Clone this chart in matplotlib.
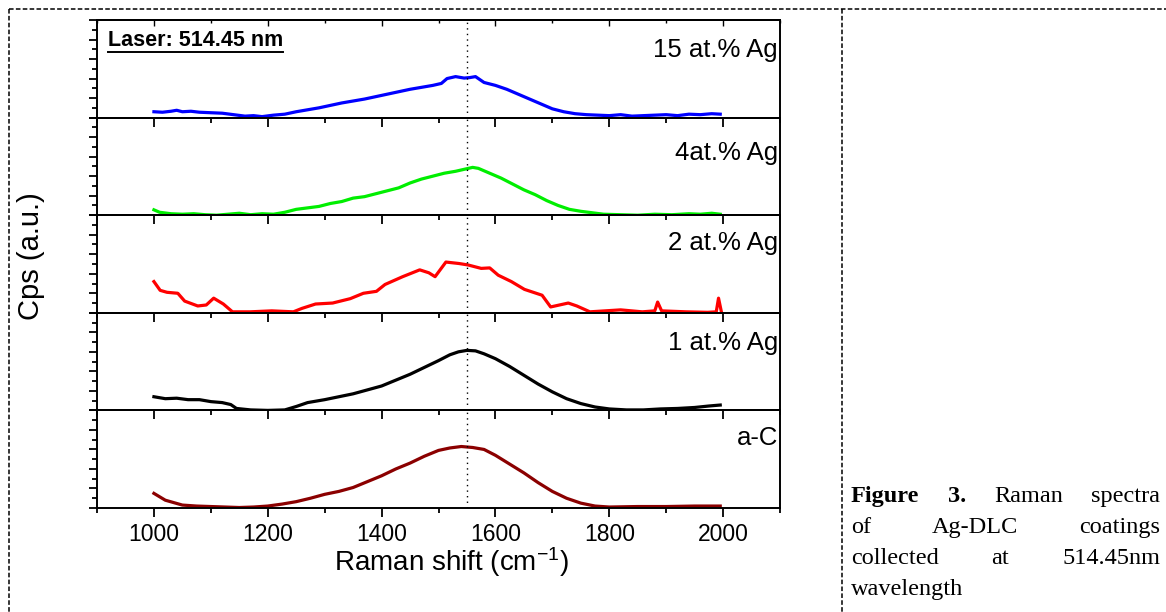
import matplotlib
matplotlib.use('Agg')
import matplotlib.pyplot as plt
from matplotlib.lines import Line2D
from matplotlib.ticker import MultipleLocator

plt.rcParams['font.family'] = ['Liberation Sans', 'DejaVu Sans']
plt.rcParams['mathtext.fontset'] = 'custom'
plt.rcParams['mathtext.rm'] = 'Liberation Sans'
plt.rcParams['mathtext.it'] = 'Liberation Sans:italic'

# ---------------- data (normalised intensity, fraction of panel height) ----------------
labels = ["15 at.% Ag", "4at.% Ag", "2 at.% Ag", "1 at.% Ag", "a-C"]
colors = ["#0000FF", "#00EE00", "#FF0000", "#000000", "#8B0000"]

x_ag15 = [1000, 1015, 1030, 1040, 1050, 1065, 1080, 1100, 1120, 1140, 1160, 1175, 1190, 1210,
          1230, 1250, 1270, 1290, 1310, 1330, 1350, 1370, 1390, 1410, 1430, 1450, 1470, 1490,
          1505, 1515, 1530, 1545, 1555, 1565, 1580, 1600, 1620, 1640, 1660, 1680, 1700, 1720,
          1740, 1760, 1780, 1800, 1820, 1840, 1860, 1880, 1900, 1920, 1940, 1960, 1980, 1995]
y_ag15 = [0.06, 0.055, 0.065, 0.075, 0.06, 0.065, 0.055, 0.05, 0.045, 0.03, 0.015, 0.02, 0.01, 0.025,
          0.035, 0.06, 0.08, 0.10, 0.125, 0.15, 0.17, 0.19, 0.215, 0.24, 0.265, 0.29, 0.31, 0.33,
          0.35, 0.40, 0.42, 0.405, 0.41, 0.42, 0.36, 0.33, 0.29, 0.24, 0.19, 0.14, 0.09, 0.06,
          0.04, 0.03, 0.025, 0.02, 0.03, 0.015, 0.02, 0.025, 0.03, 0.02, 0.035, 0.03, 0.04, 0.035]

x_ag4 = [1000, 1010, 1030, 1050, 1070, 1090, 1110, 1130, 1150, 1170, 1190, 1210, 1230, 1250,
         1270, 1290, 1310, 1330, 1350, 1370, 1390, 1410, 1430, 1450, 1470, 1490, 1510, 1530,
         1545, 1560, 1570, 1590, 1610, 1630, 1650, 1670, 1690, 1710, 1730, 1750, 1770, 1790,
         1820, 1850, 1880, 1910, 1940, 1960, 1980, 1995]
y_ag4 = [0.055, 0.03, 0.015, 0.01, 0.015, 0.005, 0.0, 0.01, 0.02, 0.005, 0.015, 0.01, 0.03, 0.06,
         0.075, 0.09, 0.12, 0.14, 0.175, 0.19, 0.22, 0.25, 0.28, 0.33, 0.37, 0.40, 0.43, 0.45,
         0.47, 0.49, 0.48, 0.43, 0.38, 0.32, 0.26, 0.21, 0.15, 0.10, 0.06, 0.04, 0.025, 0.01,
         0.005, 0.0, 0.01, 0.005, 0.015, 0.01, 0.02, 0.01]

x_ag2 = [1000, 1011, 1023, 1042, 1054, 1077, 1092, 1105, 1122, 1138, 1169, 1207, 1245, 1260,
         1284, 1314, 1345, 1368, 1391, 1406, 1437, 1467, 1483, 1494, 1513, 1536, 1552, 1575,
         1590, 1605, 1628, 1651, 1682, 1697, 1728, 1743, 1766, 1820, 1858, 1880, 1885, 1892,
         1935, 1973, 1988, 1992, 1997]
y_ag2 = [0.32, 0.23, 0.21, 0.20, 0.12, 0.07, 0.08, 0.15, 0.09, 0.01, 0.01, 0.02, 0.01, 0.045,
         0.09, 0.10, 0.145, 0.20, 0.22, 0.29, 0.37, 0.44, 0.41, 0.37, 0.52, 0.505, 0.49, 0.455,
         0.46, 0.385, 0.32, 0.24, 0.18, 0.06, 0.10, 0.07, 0.01, 0.03, 0.01, 0.02, 0.11, 0.02,
         0.01, 0.005, 0.01, 0.15, 0.01]

x_ag1 = [1000, 1020, 1040, 1060, 1080, 1100, 1120, 1135, 1145, 1170, 1200, 1230, 1250, 1270,
         1300, 1325, 1350, 1375, 1400, 1425, 1450, 1475, 1500, 1520, 1535, 1550, 1565, 1580,
         1600, 1625, 1650, 1675, 1700, 1725, 1750, 1775, 1800, 1830, 1860, 1890, 1920, 1950,
         1975, 1995]
y_ag1 = [0.14, 0.12, 0.125, 0.11, 0.11, 0.09, 0.08, 0.06, 0.02, 0.005, 0.0, 0.005, 0.04, 0.08,
         0.11, 0.14, 0.17, 0.21, 0.25, 0.31, 0.37, 0.44, 0.51, 0.57, 0.60, 0.615, 0.61, 0.58,
         0.53, 0.45, 0.36, 0.27, 0.19, 0.12, 0.07, 0.035, 0.015, 0.005, 0.005, 0.015, 0.02, 0.03,
         0.045, 0.055]

x_ac = [1000, 1020, 1050, 1075, 1100, 1125, 1150, 1175, 1200, 1225, 1250, 1275, 1300, 1325,
        1350, 1375, 1400, 1425, 1450, 1475, 1500, 1520, 1540, 1560, 1580, 1600, 1625, 1650,
        1675, 1700, 1725, 1750, 1775, 1800, 1850, 1900, 1950, 1995]
y_ac = [0.15, 0.08, 0.03, 0.02, 0.015, 0.01, 0.005, 0.01, 0.02, 0.04, 0.065, 0.10, 0.14, 0.17,
        0.21, 0.27, 0.33, 0.40, 0.46, 0.53, 0.59, 0.615, 0.63, 0.62, 0.60, 0.54, 0.45, 0.36,
        0.26, 0.17, 0.10, 0.05, 0.02, 0.01, 0.015, 0.015, 0.02, 0.02]

series_x = [x_ag15, x_ag4, x_ag2, x_ag1, x_ac]
series_y = [y_ag15, y_ag4, y_ag2, y_ag1, y_ac]

x_ticks = [1000, 1200, 1400, 1600, 1800, 2000]
x_range = (900, 2100)
ref_line = 1550

# ---------------- figure ----------------
W, H = 1166, 612
fig = plt.figure(figsize=(W / 100, H / 100), dpi=100)

left, right, top, bottom = 97, 780, 20, 508
ph = (bottom - top) / 5
label_y = [0.69, 0.64, 0.72, 0.69, 0.72]

for i in range(5):
    yt = top + i * ph
    ax = fig.add_axes([left / W, 1 - (yt + ph) / H, (right - left) / W, ph / H])
    ax.patch.set_visible(False)
    ax.plot(series_x[i], series_y[i], color=colors[i], lw=2.3, solid_joinstyle='round')
    ax.axvline(ref_line, color='black', lw=1.0, ls=(0, (1, 3)))
    ax.set_xlim(*x_range)
    ax.set_ylim(0, 1)
    ax.set_xticks(x_ticks)
    ax.xaxis.set_minor_locator(MultipleLocator(100))
    ax.yaxis.set_major_locator(MultipleLocator(0.2))
    ax.yaxis.set_minor_locator(MultipleLocator(0.1))
    ax.tick_params(axis='x', which='both', direction='out', bottom=True, top=False,
                   labelbottom=(i == 4), labelsize=16.5, width=1.3, pad=4)
    ax.tick_params(axis='x', which='major', length=6.5)
    ax.tick_params(axis='x', which='minor', length=3.5)
    ax.tick_params(axis='y', which='both', direction='out', left=True, right=False,
                   labelleft=False, width=1.3)
    ax.tick_params(axis='y', which='major', length=6)
    ax.tick_params(axis='y', which='minor', length=3.5)
    for s in ax.spines.values():
        s.set_linewidth(1.4)
    ax.text(0.997, label_y[i], labels[i], transform=ax.transAxes, ha='right', va='center',
            fontsize=18.5)
    if i == 0:
        sec = ax.secondary_xaxis('top')
        sec.set_xticks(x_ticks)
        sec.xaxis.set_minor_locator(MultipleLocator(100))
        sec.tick_params(axis='x', which='both', direction='in', labeltop=False, width=1.0)
        sec.tick_params(axis='x', which='major', length=4)
        sec.tick_params(axis='x', which='minor', length=2.5)
        sec.spines['top'].set_linewidth(1.4)
        laser = ax.text(0.016, 0.79, "Laser: 514.45 nm", transform=ax.transAxes,
                        ha='left', va='center', fontsize=15.5, fontweight='bold')

fig.text(31 / W, 1 - 256 / H, "Cps (a.u.)", rotation=90, ha='center', va='center', fontsize=21)
fig.text(451 / W, 1 - 562 / H, "Raman shift (cm$^{-1}$)", ha='center', va='center', fontsize=20)

# underline for laser label
fig.canvas.draw()
r = fig.canvas.get_renderer()
bb = laser.get_window_extent(r)
fig.add_artist(Line2D([bb.x0 / W, bb.x1 / W], [(bb.y0 - 1) / H, (bb.y0 - 1) / H],
                      transform=fig.transFigure, color='black', lw=1.4))

# caption (justified)
cap_lines = [
    ([("Figure", 'bold'), ("3.", 'bold'), ("Raman", 'normal'), ("spectra", 'normal')], True),
    ([("of", 'normal'), ("Ag-DLC", 'normal'), ("coatings", 'normal')], True),
    ([("collected", 'normal'), ("at", 'normal'), ("514.45nm", 'normal')], True),
    ([("wavelength", 'normal')], False),
]
cx0, cx1 = 851, 1160
base_y = [502, 533, 564, 595]
for (words, just), by in zip(cap_lines, base_y):
    ts = [fig.text(0, 1 - by / H, w, fontsize=17.5, family=['Liberation Serif', 'DejaVu Serif'],
                   weight=wt, ha='left', va='baseline') for w, wt in words]
    fig.canvas.draw()
    ws = [t.get_window_extent(r).width for t in ts]
    if just and len(ws) > 1:
        gap = (cx1 - cx0 - sum(ws)) / (len(ws) - 1)
    else:
        gap = 0
    x = cx0
    for t, w in zip(ts, ws):
        t.set_x(x / W)
        x += w + gap

# dashed frame
dash = dict(transform=fig.transFigure, color='black', lw=1.1, ls=(0, (3, 1.5)))
fig.add_artist(Line2D([9 / W, 1.0], [1 - 9 / H, 1 - 9 / H], **dash))
fig.add_artist(Line2D([9 / W, 9 / W], [1 - 9 / H, 0.0], **dash))
fig.add_artist(Line2D([842 / W, 842 / W], [1 - 9 / H, 0.0], **dash))

fig.savefig("out.png", dpi=100)
